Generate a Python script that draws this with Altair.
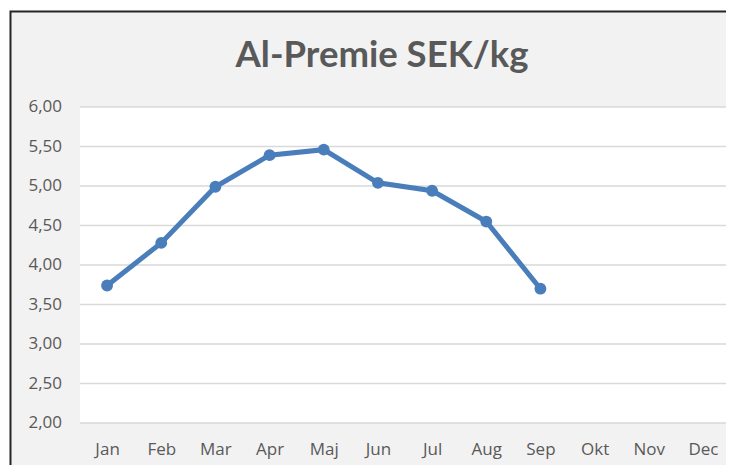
import altair as alt
import pandas as pd

months = ["Jan", "Feb", "Mar", "Apr", "Maj", "Jun", "Jul", "Aug", "Sep", "Okt", "Nov", "Dec"]
values = [3.74, 4.28, 4.99, 5.39, 5.46, 5.04, 4.94, 4.55, 3.70]
y_ticks = [2.0, 2.5, 3.0, 3.5, 4.0, 4.5, 5.0, 5.5, 6.0]
y_labels = ["2,00", "2,50", "3,00", "3,50", "4,00", "4,50", "5,00", "5,50", "6,00"]
title_text = "Al-Premie SEK/kg"

df = pd.DataFrame({"month": months[:len(values)], "value": values})
ticks_df = pd.DataFrame({"value": y_ticks, "label": y_labels})
dummy = pd.DataFrame({"a": [0]})

LINE_COLOR = "#4a7ebb"
TEXT_COLOR = "#595959"

x_scale = alt.Scale(domain=months, range=[0, 650])
y_scale = alt.Scale(domain=[2, 6], nice=False, zero=False)

x_enc = alt.X("month:O", scale=x_scale,
              axis=alt.Axis(title=None, labelAngle=0, domain=False, ticks=False, tickSize=0,
                            grid=False, labelPadding=18, labelFont="Open Sans",
                            labelFontSize=17, labelColor=TEXT_COLOR, labelOverlap=False))
y_enc = alt.Y("value:Q", scale=y_scale, axis=None)

grid = alt.Chart(ticks_df).mark_rule(color="#d9d9d9", strokeWidth=1.5).encode(
    y=y_enc, x=alt.value(0), x2=alt.value(650))
ylab = alt.Chart(ticks_df).mark_text(font="Open Sans", fontSize=17, color=TEXT_COLOR,
                                     align="right", baseline="middle").encode(
    y=y_enc, x=alt.value(-18), text="label:N")

line = alt.Chart(df).mark_line(color=LINE_COLOR, strokeWidth=5).encode(x=x_enc, y=y_enc)
points = alt.Chart(df).mark_point(filled=True, color=LINE_COLOR, size=140, opacity=1).encode(
    x=x_enc, y=y_enc)

white_left = alt.Chart(dummy).mark_rect(color="white").encode(
    x=alt.value(-80), x2=alt.value(-70.5), y=alt.value(-120), y2=alt.value(500))
white_top = alt.Chart(dummy).mark_rect(color="white").encode(
    x=alt.value(-80), x2=alt.value(800), y=alt.value(-120), y2=alt.value(-96.5))
border = alt.Chart(dummy).mark_rect(fillOpacity=0, stroke="#262626", strokeWidth=2).encode(
    x=alt.value(-69.5), x2=alt.value(900), y=alt.value(-95.5), y2=alt.value(600))

title = alt.Chart(dummy).mark_text(text=title_text, font="Lato", fontSize=36.5, fontWeight="bold",
                                   color=TEXT_COLOR, align="center", baseline="alphabetic").encode(
    x=alt.value(302), y=alt.value(-40))

chart = alt.layer(white_left, white_top, border, title, grid, ylab, line, points).properties(
    width=646, height=316,
    autosize=alt.AutoSizeParams(type="none"),
    padding={"left": 72, "top": 99, "right": 0, "bottom": 42},
    background="#f2f2f2",
).configure_view(fill="white", stroke=None)

chart.save("out.html", embed_options={"renderer": "svg", "actions": False})
